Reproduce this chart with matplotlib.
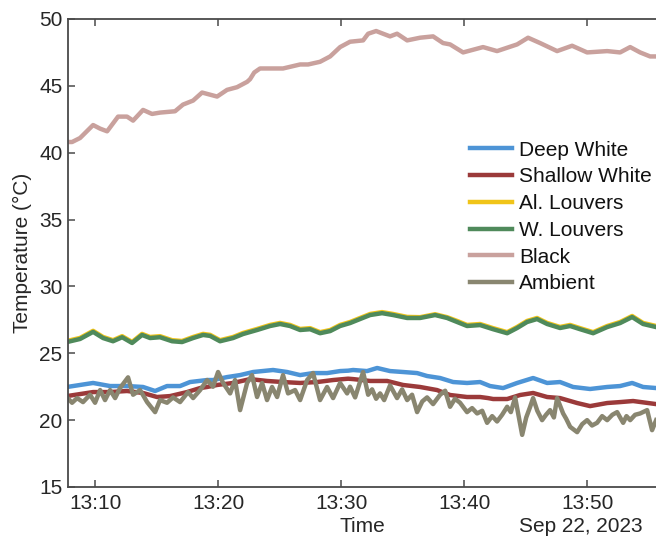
import matplotlib
matplotlib.use("Agg")
import matplotlib.pyplot as plt
import matplotlib.dates as mdates
import pandas as pd

# minutes after 13:00 on Sep 22, 2023, values in deg C
black_t = [7.72, 8.13, 8.78, 9.84, 10.41, 10.98, 11.87, 12.60, 13.09, 13.90, 14.63, 15.28,
           16.50, 17.15, 17.97, 18.70, 19.92, 20.73, 21.54, 22.36, 22.60, 22.94, 23.41, 24.23,
           25.28, 26.67, 27.32, 28.29, 29.11, 29.92, 30.73, 31.79, 32.20, 32.85, 33.41, 33.98,
           34.55, 35.37, 36.42, 37.48, 38.29, 38.86, 39.92, 41.54, 42.68, 44.31, 45.20, 46.18,
           47.56, 48.78, 50.00, 51.63, 52.68, 53.50, 54.31, 55.12, 55.61]
black_v = [40.8, 40.8, 41.1, 42.07, 41.8, 41.6, 42.7, 42.7, 42.4, 43.2, 42.9, 43.0,
           43.1, 43.6, 43.9, 44.5, 44.2, 44.7, 44.9, 45.3, 45.5, 46.0, 46.3, 46.3,
           46.3, 46.6, 46.6, 46.8, 47.2, 47.9, 48.3, 48.4, 48.9, 49.1, 48.9, 48.7,
           48.9, 48.4, 48.6, 48.7, 48.2, 48.1, 47.5, 47.9, 47.6, 48.1, 48.6, 48.2,
           47.6, 48.0, 47.5, 47.6, 47.5, 47.9, 47.5, 47.2, 47.2]

louv_t = [7.72, 8.78, 9.84, 10.65, 11.46, 12.20, 13.01, 13.82, 14.47, 15.28, 16.26, 17.07,
          17.97, 18.78, 19.35, 20.16, 21.22, 22.03, 23.17, 24.23, 25.04, 25.85, 26.67, 27.48,
          28.29, 29.11, 29.92, 30.73, 31.54, 32.36, 33.33, 34.23, 35.37, 36.42, 37.64, 38.62,
          39.43, 40.24, 41.30, 42.36, 43.50, 44.31, 45.12, 45.93, 46.75, 47.80, 48.62, 49.43,
          50.49, 51.63, 52.68, 53.66, 54.55, 55.61]
w_louv_v = [25.84, 26.07, 26.6, 26.14, 25.9, 26.2, 25.77, 26.37, 26.14, 26.2, 25.9, 25.84,
            26.14, 26.37, 26.3, 25.9, 26.14, 26.44, 26.74, 27.04, 27.19, 27.04, 26.74, 26.8,
            26.5, 26.66, 27.04, 27.26, 27.56, 27.86, 28.0, 27.86, 27.64, 27.64, 27.86, 27.64,
            27.34, 27.04, 27.11, 26.8, 26.5, 26.89, 27.34, 27.56, 27.19, 26.89, 27.04, 26.8,
            26.5, 26.96, 27.26, 27.71, 27.19, 26.96]
al_louv_v = [25.92, 26.15, 26.68, 26.22, 25.98, 26.28, 25.85, 26.45, 26.22, 26.28, 25.98, 25.92,
             26.22, 26.45, 26.38, 25.98, 26.22, 26.52, 26.82, 27.12, 27.27, 27.12, 26.82, 26.88,
             26.58, 26.74, 27.12, 27.34, 27.64, 27.94, 28.08, 27.94, 27.72, 27.7, 27.92, 27.7,
             27.42, 27.12, 27.19, 26.88, 26.58, 26.97, 27.42, 27.64, 27.27, 26.97, 27.12, 26.88,
             26.58, 27.04, 27.34, 27.79, 27.27, 27.04]

deep_t = [7.72, 8.78, 9.84, 11.22, 12.60, 13.90, 14.88, 15.85, 16.91, 17.72, 19.11, 19.59,
          20.73, 21.79, 22.85, 24.47, 25.61, 26.67, 27.72, 28.86, 29.92, 30.57, 30.98, 32.11,
          32.93, 33.98, 35.04, 36.18, 36.99, 38.05, 39.11, 40.24, 41.30, 42.11, 43.17, 44.31,
          45.61, 46.75, 47.80, 48.86, 50.24, 51.63, 52.68, 53.66, 54.55, 55.61]
deep_v = [22.48, 22.63, 22.78, 22.55, 22.55, 22.48, 22.18, 22.55, 22.55, 22.85, 23.0, 23.0,
          23.22, 23.37, 23.6, 23.75, 23.6, 23.37, 23.52, 23.52, 23.67, 23.7, 23.75, 23.67,
          23.9, 23.67, 23.6, 23.52, 23.3, 23.15, 22.85, 22.78, 22.85, 22.55, 22.4, 22.78,
          23.15, 22.78, 22.85, 22.48, 22.33, 22.48, 22.55, 22.78, 22.48, 22.4]

shallow_t = [7.72, 8.78, 9.84, 11.22, 12.60, 13.90, 15.04, 16.10, 17.48, 18.54, 19.11, 19.92,
             21.22, 22.60, 23.98, 25.28, 26.67, 28.05, 29.35, 30.57, 30.98, 32.36, 33.74, 35.04,
             36.42, 37.80, 38.86, 40.24, 41.30, 41.95, 42.36, 43.50, 44.55, 45.61, 46.75, 47.80,
             49.19, 50.24, 51.63, 52.68, 53.74, 55.61]
shallow_v = [21.8, 21.95, 22.1, 22.1, 22.18, 22.03, 21.73, 21.8, 22.1, 22.4, 22.48, 22.63,
             22.78, 23.07, 22.93, 22.85, 22.78, 22.85, 23.0, 23.1, 23.07, 22.93, 22.93, 22.63,
             22.48, 22.25, 21.88, 21.73, 21.73, 21.65, 21.58, 21.58, 21.88, 22.03, 21.73, 21.65,
             21.28, 21.05, 21.28, 21.35, 21.43, 21.2]

amb_t = [7.72, 8.13, 8.54, 9.02, 9.59, 10.00, 10.41, 10.81, 11.22, 11.63, 12.03, 12.68,
         13.09, 13.66, 14.23, 14.88, 15.28, 15.85, 16.34, 16.91, 17.56, 17.97, 18.54, 19.11,
         19.59, 20.00, 20.41, 20.98, 21.38, 21.79, 22.36, 22.76, 23.17, 23.58, 23.98, 24.39,
         24.80, 25.28, 25.69, 26.26, 26.67, 27.24, 27.72, 28.29, 28.86, 29.35, 29.92, 30.49,
         30.73, 31.14, 31.79, 32.20, 32.52, 32.85, 33.17, 33.50, 33.98, 34.55, 34.96, 35.37,
         35.77, 36.18, 36.60, 36.99, 37.48, 38.05, 38.46, 38.86, 39.26, 39.67, 40.24, 40.65,
         41.06, 41.47, 41.87, 42.28, 42.68, 43.09, 43.50, 43.80, 44.15, 44.72, 45.05, 45.37,
         45.61, 45.95, 46.34, 46.66, 46.99, 47.30, 47.56, 48.05, 48.30, 48.62, 49.19, 49.60,
         50.00, 50.40, 50.81, 51.22, 51.63, 52.05, 52.44, 52.93, 53.20, 53.50, 53.90, 54.31,
         54.88, 55.28, 55.61]
amb_v = [21.7, 21.3, 21.65, 21.35, 21.9, 21.3, 22.25, 21.5, 22.25, 21.65, 22.4, 23.2,
         21.9, 22.25, 21.35, 20.6, 21.5, 21.3, 21.7, 21.35, 22.1, 21.65, 22.25, 23.0,
         22.5, 23.6, 22.78, 22.0, 23.0, 20.75, 22.78, 23.37, 21.73, 22.78, 21.5, 22.48,
         21.73, 23.37, 22.0, 22.25, 21.5, 23.0, 23.52, 21.5, 22.48, 21.65, 22.78, 22.0,
         22.5, 21.7, 23.6, 21.9, 22.3, 21.6, 22.0, 21.5, 22.6, 21.65, 22.3, 21.5,
         21.9, 20.6, 21.4, 21.7, 21.2, 21.9, 22.2, 21.0, 21.6, 21.3, 20.6, 20.9,
         20.5, 20.7, 19.8, 20.3, 19.9, 20.4, 21.0, 20.6, 21.7, 18.9, 20.2, 21.0,
         21.65, 20.7, 20.0, 20.4, 20.75, 20.2, 21.65, 20.5, 20.1, 19.5, 19.1, 19.7,
         20.0, 19.6, 19.8, 20.3, 20.0, 20.4, 20.6, 19.8, 20.3, 20.0, 20.4, 20.5,
         20.75, 19.25, 20.0]

labels = ["Deep White", "Shallow White", "Al. Louvers", "W. Louvers", "Black", "Ambient"]
colors = ["#4d94d6", "#9b3a3a", "#f0c419", "#4f8a5b", "#c9a19d", "#898670"]

base = pd.Timestamp("2023-09-22 13:00:00")


def to_time(minutes):
    return base + pd.to_timedelta(minutes, unit="min")


series = [
    (deep_t, deep_v),
    (shallow_t, shallow_v),
    (louv_t, al_louv_v),
    (louv_t, w_louv_v),
    (black_t, black_v),
    (amb_t, amb_v),
]

plt.rcParams["font.family"] = ["Liberation Sans", "DejaVu Sans"]
text_col = "#262626"

fig = plt.figure(figsize=(6.56, 5.44), dpi=100)
ax = fig.add_axes([68 / 656, 1 - 487 / 544, 1 - 68 / 656, (487 - 19) / 544])

for (t, v), lab, col in zip(series, labels, colors):
    ax.plot(to_time(t), v, color=col, lw=3.2, label=lab, solid_joinstyle="round")

ax.set_xlim(to_time(7.8), to_time(55.6))
ax.set_ylim(15, 50)
ax.set_yticks(range(15, 51, 5))
ax.xaxis.set_major_locator(mdates.MinuteLocator(byminute=[10, 20, 30, 40, 50]))
ax.xaxis.set_major_formatter(mdates.DateFormatter("%H:%M"))

for side in ["left", "bottom", "top"]:
    ax.spines[side].set_color("#4a4a4a")
    ax.spines[side].set_linewidth(1.3)
ax.spines["right"].set_visible(False)
ax.tick_params(axis="both", direction="in", length=5, width=1.1, color="#4a4a4a",
               labelsize=15, labelcolor=text_col)
ax.tick_params(axis="x", top=True, pad=5)
ax.tick_params(axis="y", pad=4)

ax.set_ylabel("Temperature (\u00b0C)", fontsize=15, color=text_col, labelpad=5)
ax.set_xlabel("Time", fontsize=15, color=text_col, labelpad=3)
ax.text(0.978, -0.064, "Sep 22, 2023", transform=ax.transAxes, ha="right", va="top",
        fontsize=15, color=text_col)

leg = ax.legend(loc="upper left", bbox_to_anchor=(0.684, 0.74), frameon=False,
                fontsize=15, handlelength=2.0, handletextpad=0.35, labelspacing=0.37,
                borderpad=0, borderaxespad=0)
for txt in leg.get_texts():
    txt.set_color("#111111")

fig.savefig("out.png", dpi=100)
